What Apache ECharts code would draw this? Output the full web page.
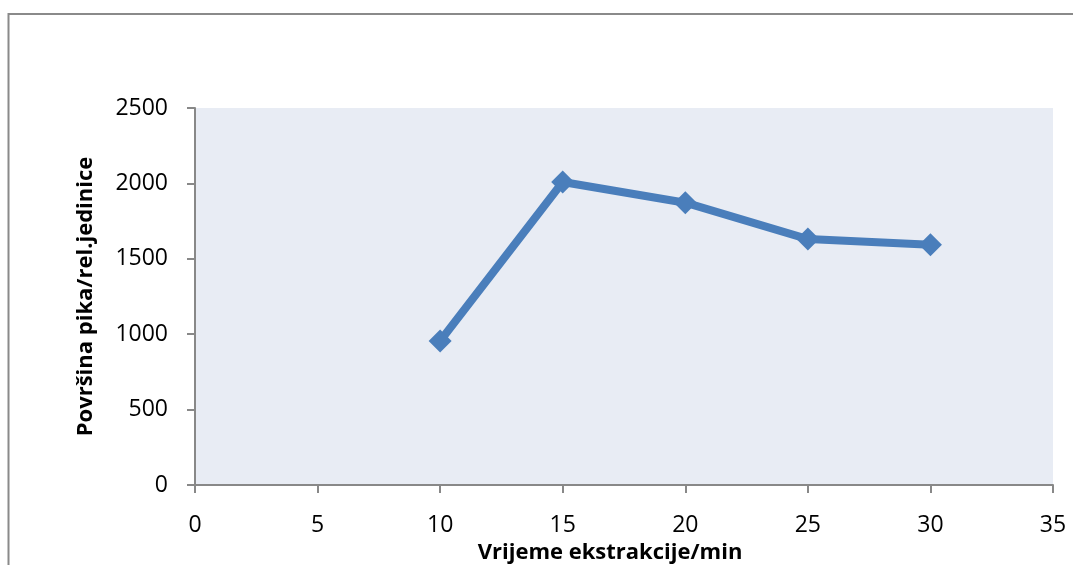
<!DOCTYPE html>
<html>
<head>
<meta charset="utf-8">
<script src="https://cdn.jsdelivr.net/npm/echarts@6/dist/echarts.min.js"></script>
<style>
html,body{margin:0;padding:0;background:#fff;}
#chart{width:1073px;height:565px;}
</style>
</head>
<body>
<div id="chart"></div>
<script>
const xValues = [10, 15, 20, 25, 30];
const yValues = [955, 2009, 1872, 1631, 1593];
const xAxisTitle = 'Vrijeme ekstrakcije/min';
const yAxisTitle = 'Površina pika/rel.jedinice';

const chart = echarts.init(document.getElementById('chart'));
const font = '"Open Sans", "DejaVu Sans", sans-serif';
chart.setOption({
  animation: false,
  backgroundColor: '#ffffff',
  graphic: [{
    type: 'rect',
    shape: {x: 8.5, y: 14, width: 1100, height: 600},
    style: {fill: 'none', stroke: '#8a8a8a', lineWidth: 2},
    silent: true, z: -1
  }],
  grid: {left: 195, right: 20, top: 108, bottom: 80, show: true,
         outerBoundsMode: 'none', containLabel: false,
         backgroundColor: '#e8ecf4', borderWidth: 0},
  xAxis: {
    type: 'value', min: 0, max: 35, interval: 5,
    name: xAxisTitle, nameLocation: 'middle', nameGap: 52,
    nameTextStyle: {fontFamily: font, fontWeight: 'bold', fontSize: 22, color: '#000',
                    padding: [0, 28, 0, 0]},
    axisLine: {show: true, onZero: false, lineStyle: {color: '#888888', width: 2}},
    axisTick: {show: true, length: 8, lineStyle: {color: '#888888', width: 2}},
    axisLabel: {fontFamily: font, fontSize: 23, color: '#000', margin: 29,
                formatter: v => String(v)},
    splitLine: {show: false}
  },
  yAxis: {
    type: 'value', min: 0, max: 2500, interval: 500,
    name: yAxisTitle, nameLocation: 'middle', nameGap: 98,
    nameTextStyle: {fontFamily: font, fontWeight: 'bold', fontSize: 22, color: '#000'},
    axisLine: {show: true, lineStyle: {color: '#888888', width: 2}},
    axisTick: {show: true, length: 8, lineStyle: {color: '#888888', width: 2}},
    axisLabel: {fontFamily: font, fontSize: 23, color: '#000', margin: 27,
                formatter: v => String(v)},
    splitLine: {show: false}
  },
  series: [{
    type: 'line',
    data: xValues.map((x, i) => [x, yValues[i]]),
    symbol: 'diamond', symbolSize: 23,
    lineStyle: {color: '#4a7ebb', width: 8},
    itemStyle: {color: '#4a7ebb'}
  }]
});
</script>
</body>
</html>
